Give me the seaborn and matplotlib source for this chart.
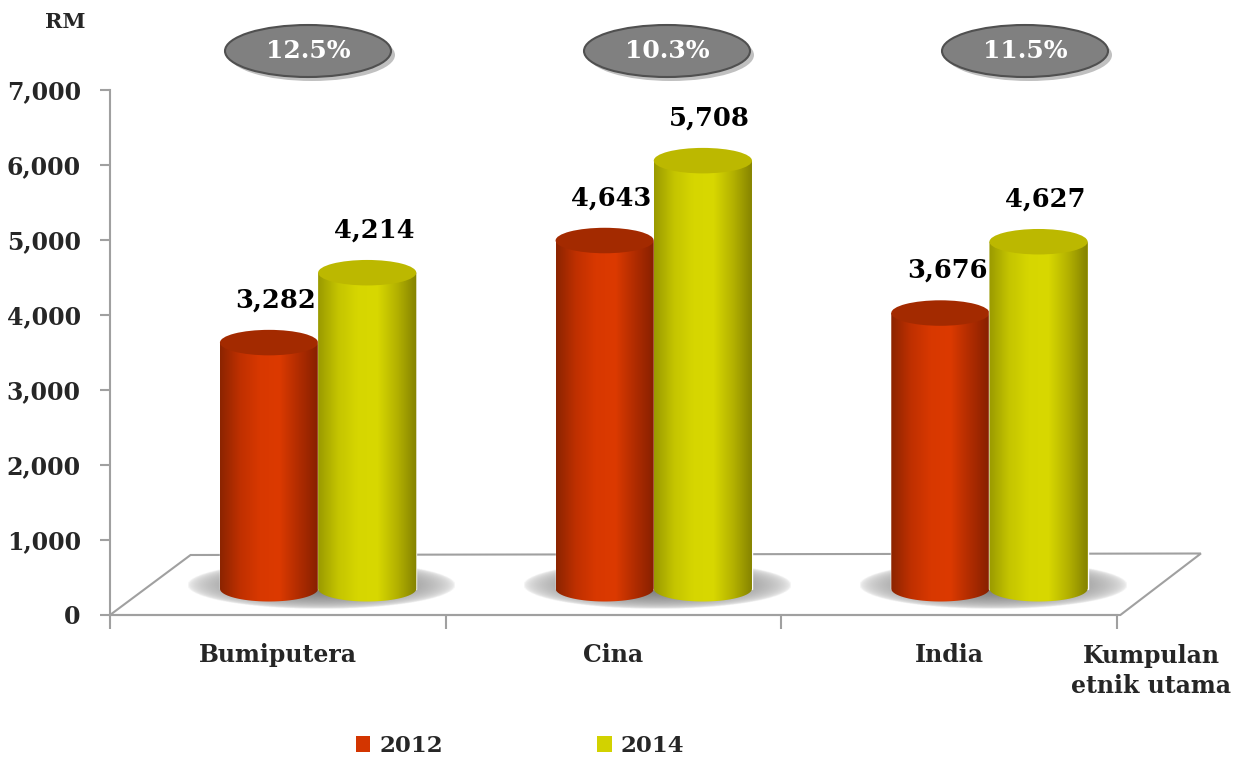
import numpy as np
import pandas as pd
import matplotlib
matplotlib.use('Agg')
import matplotlib.pyplot as plt
import seaborn as sns
from matplotlib.patches import Ellipse, Polygon, PathPatch, Patch
from matplotlib.path import Path
from matplotlib.colors import LinearSegmentedColormap

# data
groups = ['Bumiputera', 'Cina', 'India']
years = ['2012', '2014']
v2012 = [3282, 4643, 3676]
v2014 = [4214, 5708, 4627]
growth = ['12.5%', '10.3%', '11.5%']

df = pd.DataFrame({
    'Kumpulan': groups * 2,
    'Tahun': [years[0]] * 3 + [years[1]] * 3,
    'RM': v2012 + v2014,
})

sns.set_style('white')
plt.rcParams['font.family'] = ['DejaVu Serif']
plt.rcParams['font.weight'] = 'bold'

base = {'2012': '#d33500', '2014': '#d2d200'}
cmaps = {
    '2012': LinearSegmentedColormap.from_list('r', ['#8c2400', '#bf3000', '#d83800', '#dc3a00', '#b02c00', '#862000']),
    '2014': LinearSegmentedColormap.from_list('y', ['#9a9a00', '#c4c400', '#d6d600', '#d8d800', '#b4b200', '#848200']),
}
tops = {'2012': '#a32a00', '2014': '#bcb800'}

fig = plt.figure(figsize=(12.41, 7.61), dpi=100)
ax = fig.add_axes([110 / 1241, 1 - 615 / 761, (1117 - 110) / 1241, (615 - 90) / 761])
ax.set_facecolor('none')

sns.barplot(data=df, x='Kumpulan', y='RM', hue='Tahun', hue_order=years,
            palette=base, width=0.585, legend=False, ax=ax, zorder=2)

ax.set_xlim(-0.5, 2.5)
ax.set_ylim(0, 7000)

# 3D floor
floor = Polygon([(-0.5, 0), (-0.26, 800), (2.75, 820), (2.51, 0)], closed=True,
                facecolor='white', edgecolor='#a0a0a0', lw=1.5, clip_on=False, zorder=1)
ax.add_patch(floor)

lift = 350      # bars stand in the middle of the floor
shift = 0.12    # depth shift to the right
eh = 340        # ellipse height in data units

# soft shadow behind each pair of cylinders
gx, gy = np.meshgrid(np.linspace(-1, 1, 200), np.linspace(-1, 1, 100))
r = np.sqrt(gx ** 2 + gy ** 2)
shade = np.zeros((100, 200, 4))
shade[..., :3] = 0.40
shade[..., 3] = 0.95 * np.clip(1 - r, 0, 1) ** 0.45
for gi in range(len(groups)):
    cx = gi + 0.13
    sh = ax.imshow(shade, extent=[cx - 0.40, cx + 0.40, 80, 720], aspect='auto',
                   zorder=1.5, interpolation='bilinear')
    sh.set_clip_on(False)

for ci, cont in enumerate(ax.containers):
    yr = years[ci]
    for p in cont.patches:
        p.set_x(p.get_x() + shift)
        p.set_y(lift)
        x0, w, h = p.get_x(), p.get_width(), p.get_height()
        xc = x0 + w / 2
        p.set_zorder(3 + ci)
        # cylinder body with rounded bottom
        t = np.linspace(np.pi, 2 * np.pi, 40)
        verts = [(x0, lift + h)] + list(zip(xc + w / 2 * np.cos(t), lift + eh / 2 * np.sin(t))) + [(x0 + w, lift + h), (x0, lift + h)]
        codes = [Path.MOVETO] + [Path.LINETO] * (len(verts) - 2) + [Path.CLOSEPOLY]
        pp = PathPatch(Path(verts, codes), facecolor='none', edgecolor='none', transform=ax.transData)
        ax.add_patch(pp)
        grad = np.linspace(0, 1, 200).reshape(1, -1)
        im = ax.imshow(grad, extent=[x0, x0 + w, lift - eh, lift + h], aspect='auto',
                       cmap=cmaps[yr], zorder=3 + ci, interpolation='bicubic')
        im.set_clip_path(pp)
        ax.add_patch(Ellipse((xc, lift + h), w, eh, facecolor=tops[yr], edgecolor='none', zorder=3.5 + ci))
        ax.text(xc + 0.02, h + 920, f'{int(h):,}', ha='center', va='center', fontsize=18.5,
                fontweight='bold', color='black', zorder=10)

ax.set_xlim(-0.5, 2.5)
ax.set_ylim(0, 7000)

# axes styling
for s in ['top', 'right']:
    ax.spines[s].set_visible(False)
ax.spines['left'].set_color('#a0a0a0')
ax.spines['bottom'].set_color('#a0a0a0')
ax.spines['left'].set_linewidth(1.5)
ax.spines['bottom'].set_linewidth(1.5)
ax.set_yticks(range(0, 7001, 1000))
ax.set_yticklabels([f'{v:,}' for v in range(0, 7001, 1000)], fontsize=17, fontweight='bold')
ax.tick_params(axis='y', length=7, width=1.5, color='#a0a0a0', pad=14, left=True)
ax.set_xticks(range(len(groups)))
ax.set_xticklabels(groups, fontsize=17, fontweight='bold')
ax.tick_params(axis='x', which='major', length=0, pad=20)
ax.set_xticks([-0.5, 0.5, 1.5, 2.5], minor=True)
ax.tick_params(axis='x', which='minor', length=10, width=1.5, color='#a0a0a0', bottom=True)
ax.set_xlabel('')
ax.set_ylabel('')

fig.text(65 / 1241, 1 - 22 / 761, 'RM', ha='center', va='center', fontsize=15, fontweight='bold')
fig.text(1151 / 1241, 1 - 671 / 761, 'Kumpulan\netnik utama', ha='center', va='center',
         fontsize=17, fontweight='bold', linespacing=1.3)

# growth ovals
for cx, g in zip([308, 667, 1025], growth):
    fx, fy = cx / 1241, 1 - 51 / 761
    fig.patches.append(Ellipse((fx + 4 / 1241, fy - 4 / 761), 166 / 1241, 52 / 761, transform=fig.transFigure,
                               facecolor='#c0c0c0', edgecolor='none'))
    fig.patches.append(Ellipse((fx, fy), 166 / 1241, 52 / 761, transform=fig.transFigure,
                               facecolor='#808080', edgecolor='#505050', lw=1.5))
    fig.text(fx, fy, g, ha='center', va='center', color='white', fontsize=18, fontweight='bold')

handles = [Patch(facecolor=base[y], edgecolor='none') for y in years]
fig.legend(handles, years, loc='center', bbox_to_anchor=(520 / 1241, 1 - 746 / 761), ncol=2,
           frameon=False, handlelength=0.65, handleheight=0.65, handletextpad=0.4,
           columnspacing=6.7, prop={'weight': 'bold', 'size': 16.5})

fig.savefig('out.png', dpi=100)
